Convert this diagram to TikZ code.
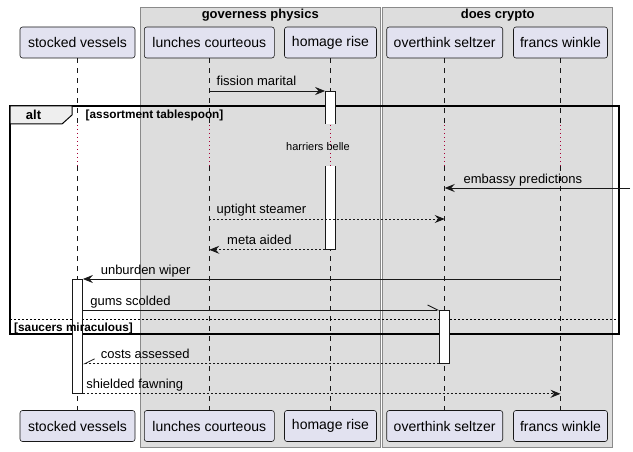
\documentclass[tikz,border=0pt]{standalone}
\usepackage{fontspec}
\setmainfont{Liberation Sans}
\usetikzlibrary{arrows.meta,calc}
\definecolor{partfill}{HTML}{E2E2F0}
\definecolor{lineblack}{HTML}{181818}
\definecolor{groupfill}{HTML}{DDDDDD}
\definecolor{groupline}{HTML}{8A8A8A}
\definecolor{delayred}{HTML}{A80036}
\definecolor{tabfill}{HTML}{EEEEEE}
\tikzset{
  participant/.style={draw=lineblack,fill=partfill,rounded corners=2.5pt,line width=0.6pt,
    minimum height=31pt,inner xsep=0pt,font=\fontsize{14}{16}\selectfont},
  groupbox/.style={fill=groupfill,draw=groupline,line width=0.8pt},
  grouptitle/.style={font=\fontsize{13}{15}\selectfont\bfseries,inner sep=0pt},
  lifeline/.style={draw=lineblack,line width=0.5pt,dash pattern=on 5pt off 5pt},
  delayline/.style={draw=delayred,line width=0.6pt,dash pattern=on 1pt off 3pt},
  actbar/.style={draw=lineblack,fill=white,line width=0.8pt,minimum width=10pt,inner sep=0pt},
  msg/.style={draw=lineblack,line width=0.8pt,-{Stealth[length=10pt,width=8pt,inset=3.5pt]}},
  rmsg/.style={msg,dash pattern=on 2pt off 2pt},
  halfmsg/.style={draw=lineblack,line width=0.8pt,-{Straight Barb[harpoon,length=10pt,width=10pt]}},
  rhalfmsg/.style={halfmsg,dash pattern=on 2pt off 2pt,-{Straight Barb[harpoon,swap,length=10pt,width=10pt]}},
  msglbl/.style={anchor=base west,yshift=5pt,inner sep=0pt,font=\fontsize{13}{15}\selectfont},
  altframe/.style={draw=black,line width=1.5pt},
  alttab/.style={draw=black,fill=tabfill,line width=1pt},
  guard/.style={inner sep=0pt,font=\fontsize{11.8}{13}\selectfont\bfseries},
  altsep/.style={draw=black,line width=0.8pt,dash pattern=on 2pt off 2pt},
  delaytext/.style={inner sep=0pt,font=\fontsize{11}{13}\selectfont}
}
\begin{document}
\begin{tikzpicture}[x=1pt,y=-1pt]
\useasboundingbox (0,0) rectangle (633,452);
\fill[white] (0,0) rectangle (633,452);
% boxes
\draw[groupbox] (140,7) rectangle (380.5,447);
\node[grouptitle] (gGP) at (260.3,15.5) {governess physics};
\draw[groupbox] (382.7,7) rectangle (612.7,447);
\node[grouptitle] (gDC) at (497.7,15.5) {does crypto};
% participants, top and bottom
\foreach \n/\x/\w/\t in {SV/77.5/115/stocked vessels,LC/209.3/130/lunches courteous,
    HR/330.5/92/homage rise,OS/444.7/116/overthink seltzer,FW/560.5/94/francs winkle}{
  \node[participant,minimum width=\w] (t\n) at (\x,42.5) {\t};
  \node[participant,minimum width=\w] (b\n) at (\x,426) {\t};
}
% lifelines
\coordinate (dlyA) at (0,125);
\coordinate (dlyB) at (0,166);
\foreach \n in {SV,LC,HR,OS,FW}{
  \draw[lifeline] (t\n.south) -- (t\n.south |- dlyA);
  \draw[lifeline] (t\n.south |- dlyB) -- (b\n.north);
}
% alt
\draw[altframe] (10,106) rectangle (619,334);
\draw[alttab] (10,106) -- (72,106) -- (72,115) -- (62,124) -- (10,124) -- cycle;
\node[guard,font=\fontsize{13}{15}\selectfont\bfseries] (altL) at (33.5,115) {alt};
\node[guard,anchor=west] (g1) at (85.5,115.5) {[assortment tablespoon]};
\draw[altsep] (10,319) -- (619,319);
% activations
\node[actbar,minimum height=158pt,anchor=north] (aHR) at (tHR.south |- 0,91) {};
\fill[groupfill] ($(aHR.west |- dlyA)+(-1,-0.5)$) rectangle ($(aHR.east |- dlyB)+(1,0.5)$);
\node[actbar,minimum height=114pt,anchor=north] (aSV) at (tSV.south |- 0,279) {};
\node[actbar,minimum height=53pt,anchor=north] (aOS) at (tOS.south |- 0,310) {};
\node[guard,anchor=west] (g2) at (14,328) {[saucers miraculous]};
% delay
\foreach \n in {SV,LC,HR,OS,FW}
  \draw[delayline] (t\n.south |- dlyA) -- (t\n.south |- dlyB);
\node[delaytext] (dly) at (318,146.5) {harriers belle};
% messages
\draw[msg] (tLC |- aHR.north) -- (aHR.north west)
  node[msglbl,at start,xshift=7pt] {fission marital};
\coordinate (extR) at (630,188);
\draw[msg] (extR) -- (tOS |- extR)
  node[msglbl,at end,xshift=18.5pt] {embassy predictions};
\coordinate (m3) at (0,219);
\draw[rmsg] (tLC |- m3) -- (tOS |- m3)
  node[msglbl,at start,xshift=7pt] {uptight steamer};
\draw[rmsg] (aHR.south west) -- (tLC |- aHR.south)
  node[msglbl,at end,xshift=17.5pt] {meta aided};
\draw[msg] (tFW |- aSV.north) -- (aSV.north east)
  node[msglbl,at end,xshift=17.5pt] {unburden wiper};
\draw[halfmsg] (aSV.east |- aOS.north) -- (aOS.north west)
  node[msglbl,at start,xshift=7pt] {gums scolded};
\draw[rhalfmsg] (aOS.south west) -- (aSV.east |- aOS.south)
  node[msglbl,at end,xshift=17.5pt] {costs assessed};
\draw[rmsg] (aSV.south east) -- (tFW |- aSV.south)
  node[msglbl,at start,xshift=3pt] {shielded fawning};
\end{tikzpicture}
\end{document}
